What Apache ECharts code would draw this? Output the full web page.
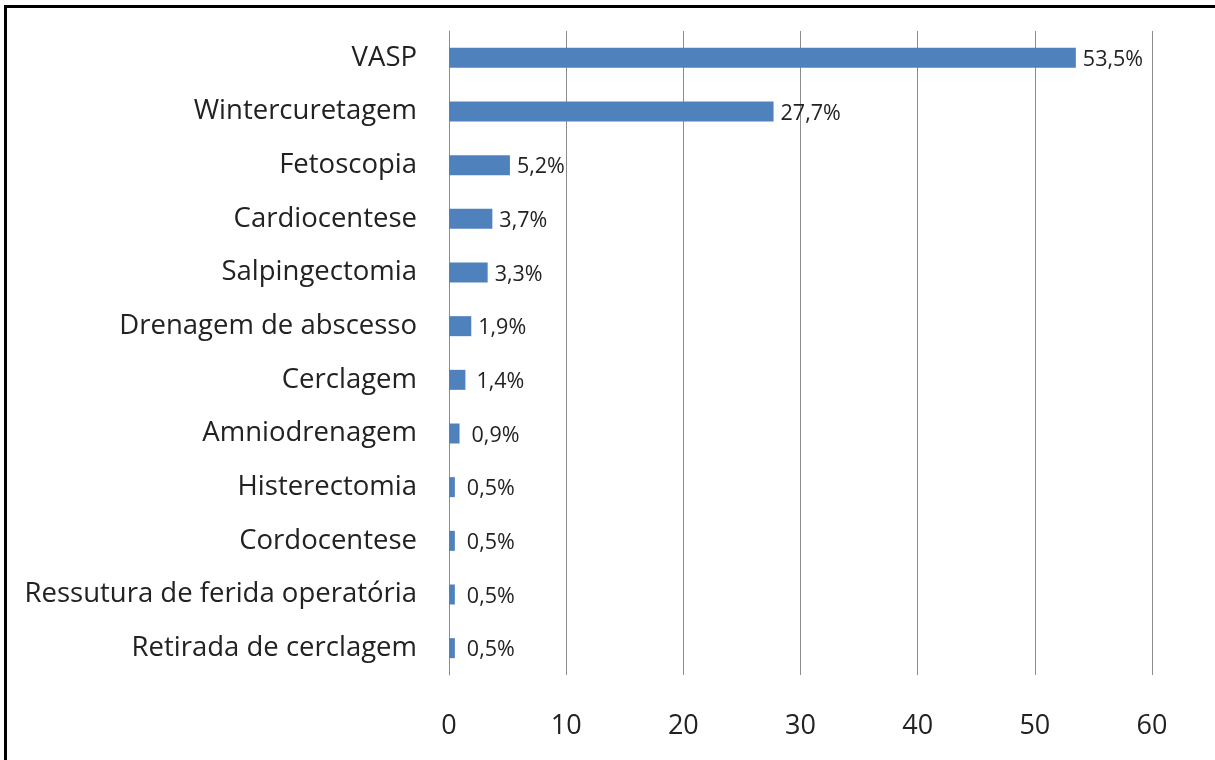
<!DOCTYPE html>
<html>
<head>
<meta charset="utf-8">
<script src="https://cdn.jsdelivr.net/npm/echarts@6/dist/echarts.min.js"></script>
<style>
	html, body { margin: 0; padding: 0; background: #fff; }
	#frame { position: absolute; left: 4px; top: 5px; width: 1211px; height: 755px; border-left: 3px solid #000; border-top: 3px solid #000; box-sizing: border-box; }
	#chart { position: absolute; left: 0; top: 0; width: 1215px; height: 760px; }
</style>
</head>
<body>
<div id="frame"></div>
<div id="chart"></div>
<script>
var categories = ['VASP', 'Wintercuretagem', 'Fetoscopia', 'Cardiocentese', 'Salpingectomia',
	'Drenagem de abscesso', 'Cerclagem', 'Amniodrenagem', 'Histerectomia', 'Cordocentese',
	'Ressutura de ferida operatória', 'Retirada de cerclagem'];
var values = [53.5, 27.7, 5.2, 3.7, 3.3, 1.9, 1.4, 0.9, 0.5, 0.5, 0.5, 0.5];
var xTicks = [0, 10, 20, 30, 40, 50, 60];

var FONT = '"Open Sans"';

var dom = document.getElementById('chart');
var myChart = echarts.init(dom);

// small bars get their labels pushed a bit further out, like in the original
var barData = values.map(function (v) {
	var d = v < 1 ? 12 : (v < 1.5 ? 11 : 7);
	return { value: v, label: { distance: d } };
});

var option = {
	animation: false,
	grid: {
		left: 449,
		right: 63,
		top: 31,
		bottom: 85,
		containLabel: false
	},
	xAxis: {
		type: 'value',
		min: xTicks[0],
		max: xTicks[xTicks.length - 1],
		interval: 10,
		axisLine: { show: false },
		axisTick: { show: false },
		splitLine: { show: true, lineStyle: { color: '#8c8c8c', width: 1 } },
		axisLabel: {
			margin: 38,
			fontFamily: FONT,
			fontSize: 27,
			color: '#222'
		}
	},
	yAxis: {
		type: 'category',
		data: categories,
		inverse: true,
		axisLine: { show: true, lineStyle: { color: '#8c8c8c', width: 1 } },
		axisTick: { show: false },
		axisLabel: {
			margin: 32,
			fontFamily: FONT,
			fontSize: 27.5,
			color: '#222'
		}
	},
	series: [
		{
			type: 'bar',
			data: barData,
			barWidth: 20,
			itemStyle: { color: '#4f81bd' },
			label: {
				show: true,
				position: 'right',
				offset: [0, 2],
				fontFamily: FONT,
				fontSize: 21.5,
				color: '#222',
				formatter: function (p) {
					return p.value.toFixed(1).replace('.', ',') + '%';
				}
			}
		}
	]
};

myChart.setOption(option, true);
</script>
</body>
</html>
